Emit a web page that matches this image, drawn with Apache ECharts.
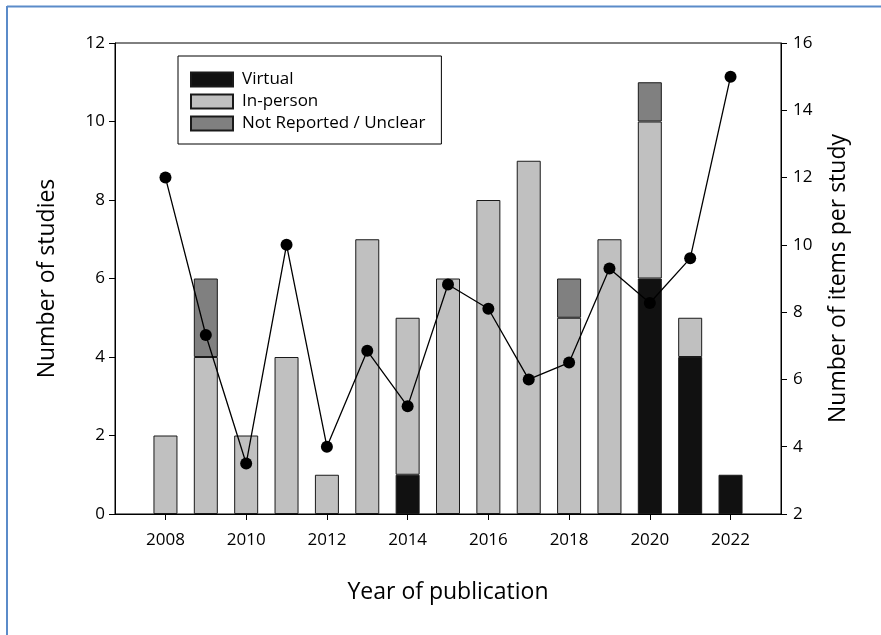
<!DOCTYPE html>
<html>
<head>
<meta charset="utf-8">
<script src="https://cdn.jsdelivr.net/npm/echarts@6/dist/echarts.min.js"></script>
<style>
html,body{margin:0;padding:0;background:#fff;}
#chart{width:881px;height:635px;}
</style>
</head>
<body>
<div id="chart"></div>
<script>
const years = [2008,2009,2010,2011,2012,2013,2014,2015,2016,2017,2018,2019,2020,2021,2022];
const virtual = [null,null,null,null,null,null,1,null,null,null,null,null,6,4,1];
const inPerson = [2,4,2,4,1,7,4,6,8,9,5,7,4,1,null];
const notReported = [null,2,null,null,null,null,null,null,null,null,1,null,1,null,null];
const itemsPerStudy = [12.0,7.32,3.5,10.0,4.0,6.85,5.2,8.82,8.1,6.0,6.5,9.3,8.27,9.6,15.0];
const xTicks = [2008,2010,2012,2014,2016,2018,2020,2022];

// value first, year second, so the value dimension is the stacked one
const pair = arr => years.map((y,i) => [arr[i] === null ? '-' : arr[i], y]);
const font = '"Open Sans", sans-serif';
const barCommon = {
  type: 'bar', stack: 'studies', barWidth: 24,
  xAxisIndex: 0, yAxisIndex: 0,
  encode: {x: 1, y: 0}
};

const chart = echarts.init(document.getElementById('chart'), null, {renderer: 'canvas'});
chart.setOption({
  animation: false,
  backgroundColor: '#fff',
  grid: {left: 115, right: 100, top: 43, bottom: 121, show: true, borderColor: '#000', borderWidth: 1, backgroundColor: 'transparent'},
  legend: {
    data: ['Virtual', 'In-person', 'Not Reported / Unclear'],
    orient: 'vertical', left: 178, top: 56, icon: 'rect',
    itemWidth: 42, itemHeight: 14, itemGap: 5,
    padding: [15, 16, 12, 12],
    borderColor: '#000', borderWidth: 1, backgroundColor: '#fff',
    textStyle: {fontFamily: font, fontSize: 17, color: '#000', padding: [0,0,0,4]}
  },
  xAxis: {
    type: 'value', min: 2006.75, max: 2023.25,
    name: 'Year of publication', nameLocation: 'middle', nameGap: 67,
    nameTextStyle: {fontFamily: font, fontSize: 23, color: '#000'},
    axisLine: {show: true, lineStyle: {color: '#000', width: 1}},
    axisTick: {show: true, inside: false, length: 6, customValues: xTicks, lineStyle: {color: '#000'}},
    axisLabel: {customValues: xTicks, formatter: v => String(v), fontFamily: font, fontSize: 17, color: '#000', margin: 18},
    splitLine: {show: false}
  },
  yAxis: [
    {
      type: 'value', min: 0, max: 12, interval: 2, position: 'left',
      name: 'Number of studies', nameLocation: 'middle', nameGap: 56, nameRotate: 90,
      nameTextStyle: {fontFamily: font, fontSize: 23, color: '#000'},
      axisLine: {show: true, lineStyle: {color: '#000', width: 1}},
      axisTick: {show: true, inside: false, length: 6, lineStyle: {color: '#000'}},
      axisLabel: {fontFamily: font, fontSize: 17, color: '#000', margin: 10},
      splitLine: {show: false}
    },
    {
      type: 'value', min: 2, max: 16, interval: 2, position: 'right',
      name: 'Number of items per study', nameLocation: 'middle', nameGap: 46, nameRotate: 90,
      nameTextStyle: {fontFamily: font, fontSize: 23, color: '#000'},
      axisLine: {show: true, lineStyle: {color: '#000', width: 1}},
      axisTick: {show: true, inside: false, length: 6, lineStyle: {color: '#000'}},
      axisLabel: {fontFamily: font, fontSize: 17, color: '#000', margin: 12},
      splitLine: {show: false}
    }
  ],
  series: [
    Object.assign({}, barCommon, {name: 'Virtual', data: pair(virtual), itemStyle: {color: '#111111', borderColor: '#1a1a1a', borderWidth: 1}}),
    Object.assign({}, barCommon, {name: 'In-person', data: pair(inPerson), itemStyle: {color: '#c0c0c0', borderColor: '#1a1a1a', borderWidth: 1}}),
    Object.assign({}, barCommon, {name: 'Not Reported / Unclear', data: pair(notReported), itemStyle: {color: '#808080', borderColor: '#1a1a1a', borderWidth: 1}}),
    {
      name: 'Items per study', type: 'line', xAxisIndex: 0, yAxisIndex: 1,
      data: years.map((y,i) => [y, itemsPerStudy[i]]),
      symbol: 'circle', symbolSize: 12,
      lineStyle: {color: '#000', width: 1.3},
      itemStyle: {color: '#000'}, z: 5
    }
  ],
  graphic: [
    {type: 'line', shape: {x1: 7, y1: 6.5, x2: 881, y2: 6.5}, style: {stroke: '#5b8bc9', lineWidth: 2}},
    {type: 'line', shape: {x1: 7, y1: 6, x2: 7, y2: 635}, style: {stroke: '#5b8bc9', lineWidth: 2}}
  ]
});
</script>
</body>
</html>
